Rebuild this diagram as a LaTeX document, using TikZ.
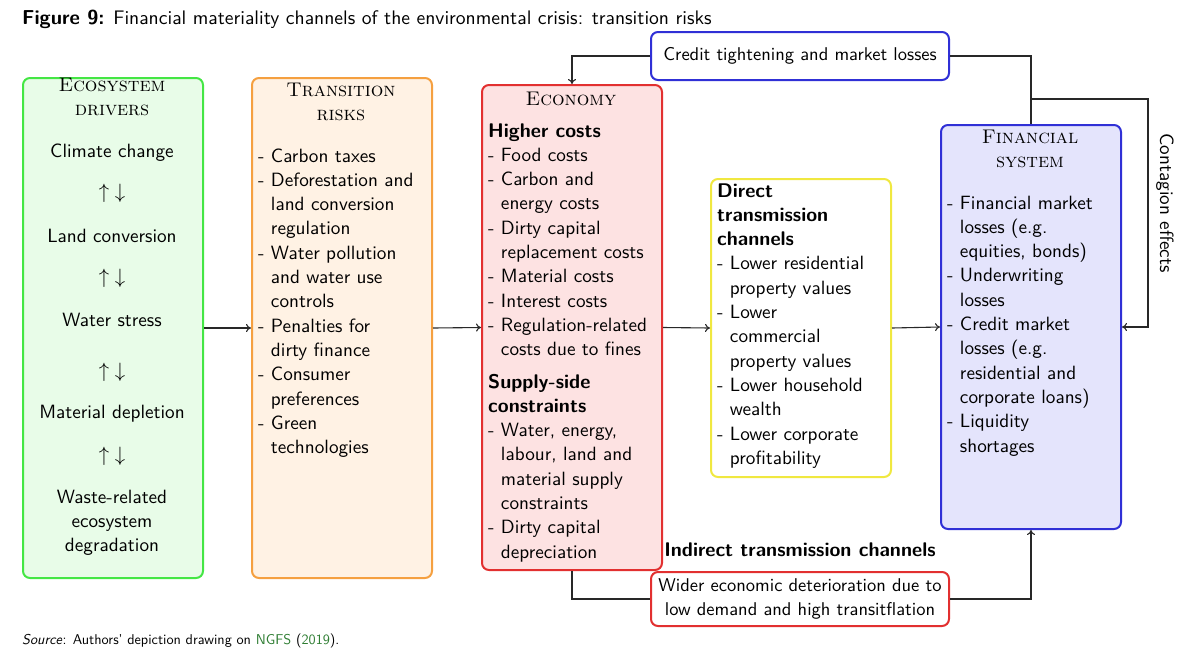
\documentclass[tikz,border=0pt]{standalone}
\usepackage{fontspec}
\setsansfont{lmsans10-regular.otf}[BoldFont=lmsans10-bold.otf, ItalicFont=lmsans10-oblique.otf, BoldItalicFont=lmsans10-boldoblique.otf, BoldFeatures={Scale=1.03}]
\newfontfamily\hdrfont{lmromancaps10-regular.otf}
\usetikzlibrary{arrows.meta}
\definecolor{grB}{RGB}{68,230,68}
\definecolor{grF}{RGB}{232,252,232}
\definecolor{orB}{RGB}{245,160,64}
\definecolor{orF}{RGB}{255,242,228}
\definecolor{rdB}{RGB}{226,48,48}
\definecolor{rdF}{RGB}{253,226,226}
\definecolor{ylB}{RGB}{240,232,64}
\definecolor{blB}{RGB}{48,48,214}
\definecolor{blF}{RGB}{228,228,252}
\definecolor{srcG}{RGB}{46,125,50}
\definecolor{lnC}{RGB}{40,40,40}
\newcommand{\contline}{\phantom{-\ }}
\begin{document}
\begin{tikzpicture}[x=1pt,y=-1pt,
 font=\sffamily\fontsize{19.2}{24.3}\selectfont,
 box/.style={draw, rounded corners=7pt, line width=2pt, inner sep=0pt, anchor=north west},
 body/.style={anchor=base west, inner sep=0pt},
 ctr/.style={anchor=base, inner sep=0pt},
 hdr/.style={anchor=base, inner sep=0pt, font=\hdrfont\fontsize{19.8}{24.3}\selectfont},
 smallbox/.style={box, anchor=center, align=center, font=\sffamily\fontsize{18.5}{24}\selectfont},
 conn/.style={draw=lnC, line width=1.1pt},
 arr/.style={conn, -{To[length=5pt,width=8pt]}}]
\useasboundingbox (0,0) rectangle (1203,670);

% title
\node[anchor=base west, inner sep=0pt, font=\sffamily\fontsize{19.6}{22}\selectfont] (title) at (22,24)
 {\textbf{Figure 9:} Financial materiality channels of the environmental crisis: transition risks};

% boxes
\node[box, draw=grB, fill=grF, minimum width=180pt, minimum height=500pt] (eco) at (22,77) {};
\node[box, draw=orB, fill=orF, minimum width=180pt, minimum height=500pt] (trans) at (251,77) {};
\node[box, draw=rdB, fill=rdF, minimum width=180pt, minimum height=485pt] (econ) at (481,84) {};
\node[box, draw=ylB, fill=white, minimum width=180pt, minimum height=298pt] (direct) at (710,178) {};
\node[box, draw=blB, fill=blF, minimum width=180pt, minimum height=404pt] (fin) at (940,124) {};
\node[smallbox, draw=blB, fill=white, minimum width=298pt, minimum height=48pt] (credit) at (800,56)
 {Credit tightening and market losses};
\node[smallbox, draw=rdB, fill=white, minimum width=298pt, minimum height=54pt] (wider) at (800,599)
 {Wider economic deterioration due to\\low demand and high transitflation};

% headers
\node[hdr] (ecoh) at (112,91) {\parbox[t]{176pt}{\centering Ecosystem\\drivers}};
\node[hdr] (transh) at (341,96) {\parbox[t]{176pt}{\centering Transition\\risks}};
\node[hdr] (econh) at (571,105) {Economy};
\node[hdr] (finh) at (1030,143) {\parbox[t]{176pt}{\centering Financial\\system}};

% ecosystem drivers
\node[ctr] (g1) at (112,157) {Climate change};
\node[inner sep=0pt] (g1a) at (112,193) {$\uparrow\;\downarrow$};
\node[ctr] (g2) at (112,242) {Land conversion};
\node[inner sep=0pt] (g2a) at (112,278) {$\uparrow\;\downarrow$};
\node[ctr] (g3) at (112,326) {Water stress};
\node[inner sep=0pt] (g3a) at (112,372) {$\uparrow\;\downarrow$};
\node[ctr] (g4) at (112,418) {Material depletion};
\node[inner sep=0pt] (g4a) at (112,456) {$\uparrow\;\downarrow$};
\node[ctr] (g5) at (112,503) {\parbox[t]{176pt}{\centering Waste-related\\ecosystem\\degradation}};

% transition risks
\node[body] (transb) at (258,162) {\parbox[t]{172pt}{\raggedright
- Carbon taxes\\
- Deforestation and\\
\contline land conversion\\
\contline regulation\\
- Water pollution\\
\contline and water use\\
\contline controls\\
- Penalties for\\
\contline dirty finance\\
- Consumer\\
\contline preferences\\
- Green\\
\contline technologies}};

% economy
\node[body] (econb1) at (488,137) {\parbox[t]{172pt}{\raggedright
\textbf{Higher costs}\\
- Food costs\\
- Carbon and\\
\contline energy costs\\
- Dirty capital\\
\contline replacement costs\\
- Material costs\\
- Interest costs\\
- Regulation-related\\
\contline costs due to fines}};
\node[body] (econb2) at (488,388) {\parbox[t]{172pt}{\raggedright
\textbf{Supply-side}\\
\textbf{constraints}\\
- Water, energy,\\
\contline labour, land and\\
\contline material supply\\
\contline constraints\\
- Dirty capital\\
\contline depreciation}};

% direct channels
\node[body] (directb) at (717,197) {\parbox[t]{172pt}{\raggedright
\textbf{Direct}\\
\textbf{transmission}\\
\textbf{channels}\\
- Lower residential\\
\contline property values\\
- Lower\\
\contline commercial\\
\contline property values\\
- Lower household\\
\contline wealth\\
- Lower corporate\\
\contline profitability}};

% financial system
\node[body] (finb) at (947,209) {\parbox[t]{172pt}{\raggedright
- Financial market\\
\contline losses (e.g.\\
\contline equities, bonds)\\
- Underwriting\\
\contline losses\\
- Credit market\\
\contline losses (e.g.\\
\contline residential and\\
\contline corporate loans)\\
- Liquidity\\
\contline shortages}};

% labels
\node[ctr, font=\sffamily\bfseries\fontsize{19.2}{24.3}\selectfont] (indl) at (800,556) {Indirect transmission channels};
\node[rotate=-90, inner sep=0pt] (contl) at (1165,203) {Contagion effects};

% source
\node[anchor=base west, inner sep=0pt, font=\sffamily\fontsize{14.2}{16}\selectfont] (src) at (22,644)
 {\textit{Source}: Authors' depiction drawing on \textcolor{srcG}{NGFS} (\textcolor{srcG}{2019}).};

% connectors
\draw[arr] (eco.east) -- (trans.west);
\draw[arr] (trans.east) -- (econ.west);
\draw[arr] (econ.east) -- (direct.west);
\draw[arr] (direct.east) -- (fin.west);
\draw[arr] (credit.west) -| (econ.north);
\draw[conn] (fin.north) |- (credit.east);
\coordinate (cj) at (1030,99);
\coordinate (cturn) at (1148,99);
\draw[arr] (cj) -- (cturn) |- (fin.east);
\draw[conn] (econ.south) |- (wider.west);
\draw[arr] (wider.east) -| (fin.south);
\end{tikzpicture}
\end{document}
